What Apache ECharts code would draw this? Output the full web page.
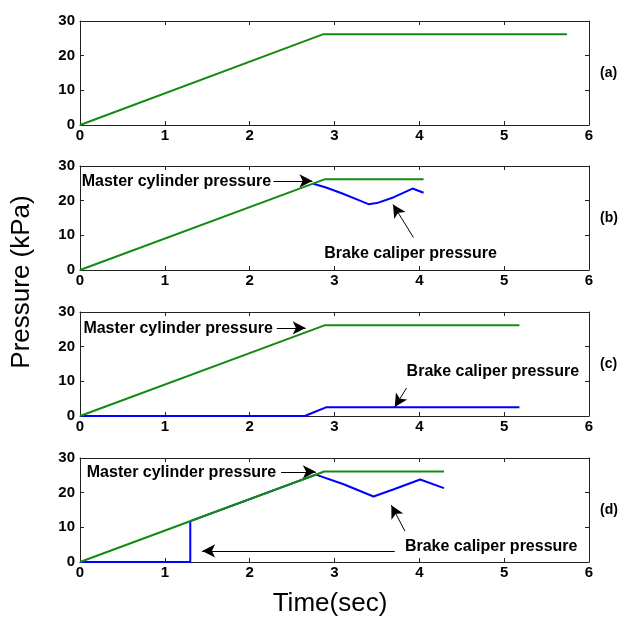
<!DOCTYPE html>
<html>
<head>
<meta charset="utf-8">
<script src="https://cdn.jsdelivr.net/npm/echarts@6/dist/echarts.min.js"></script>
<style>
html, body { margin: 0; padding: 0; background: #fff; }
#chart { width: 620px; height: 619px; }
</style>
</head>
<body>
<div id="chart"></div>
<script>
// time ticks and pressure ticks
const timeTicks = [0, 1, 2, 3, 4, 5, 6];
const pressureTicks = [0, 10, 20, 30];
const panelLabels = ['(a)', '(b)', '(c)', '(d)'];

// master cylinder pressure [time, kPa]
const masterA = [[0, 0], [2.87, 26.2], [5.74, 26.2]];
const masterB = [[0, 0], [2.89, 26.2], [4.05, 26.2]];
const masterC = [[0, 0], [2.89, 26.2], [5.18, 26.2]];
const masterD = [[0, 0], [2.88, 26.1], [4.29, 26.1]];

// brake caliper pressure [time, kPa]
const brakeB = [[2.75, 24.9], [2.9, 23.8], [3.1, 22.0], [3.3, 20.0], [3.4, 19.0], [3.5, 19.3], [3.7, 21.0], [3.92, 23.5], [4.05, 22.3]];
const brakeC = [[0, 0], [2.65, 0], [2.75, 1.0], [2.9, 2.5], [5.18, 2.5]];
const brakeD = [[0, 0], [1.3, 0], [1.3, 11.78], [2.78, 25.19], [3.1, 22.5], [3.46, 18.9], [3.7, 21.0], [4.01, 23.8], [4.29, 21.3]];

// annotation anchors in data units: [text, x, y]
const notesB = [['Master cylinder pressure', 0.02, 25.4], ['Brake caliper pressure', 2.88, 4.6]];
const notesC = [['Master cylinder pressure', 0.04, 25.1], ['Brake caliper pressure', 3.85, 12.7]];
const notesD = [['Master cylinder pressure', 0.08, 25.7], ['Brake caliper pressure', 3.83, 4.3]];
// arrows: [x1, y1, x2(head), y2(head)]
const arrowsB = [[2.28, 25.7, 2.74, 25.7], [3.93, 9.4, 3.69, 18.9]];
const arrowsC = [[2.32, 25.4, 2.66, 25.4], [3.85, 8.1, 3.71, 2.6]];
const arrowsD = [[2.37, 26.0, 2.78, 26.0], [3.71, 3.2, 1.44, 3.2], [3.83, 8.9, 3.67, 16.4]];

const chart = echarts.init(document.getElementById('chart'));

const gridTops = [21, 166, 312, 458];
const gridHeight = 104;
const fontFamily = 'Liberation Sans, Arial, sans-serif';
const tickFont = { fontFamily: fontFamily, fontWeight: 'bold', fontSize: 15, color: '#000' };
const axisColor = '#222';
const green = '#138a13';
const blue = '#0000ff';

const grids = [], xAxes = [], yAxes = [], series = [];
gridTops.forEach((top, i) => {
    grids.push({ left: 80, right: 31, top: top, height: gridHeight });
    ['bottom', 'top'].forEach(pos => {
        xAxes.push({
            gridIndex: i, type: 'value', position: pos, min: 0, max: 6, interval: 1,
            axisLine: { show: true, onZero: false, lineStyle: { color: axisColor, width: 1 } },
            axisTick: { show: true, inside: true, length: 4, lineStyle: { color: axisColor } },
            axisLabel: Object.assign({ show: pos === 'bottom', margin: 3 }, tickFont),
            splitLine: { show: false }
        });
    });
    ['left', 'right'].forEach(pos => {
        yAxes.push({
            gridIndex: i, type: 'value', position: pos, min: 0, max: 30, interval: 10,
            axisLine: { show: true, onZero: false, lineStyle: { color: axisColor, width: 1 } },
            axisTick: { show: true, inside: true, length: 4, lineStyle: { color: axisColor } },
            axisLabel: Object.assign({ show: pos === 'left', margin: 5 }, tickFont),
            splitLine: { show: false }
        });
    });
});

function notePoints(notes) {
    return notes.map(n => ({
        coord: [n[1], n[2]],
        label: {
            show: true, formatter: n[0], position: 'right', distance: 0,
            fontFamily: fontFamily, fontWeight: 'bold', fontSize: 16, color: '#000'
        }
    }));
}
function arrowLines(arrows) {
    return arrows.map(a => [{ coord: [a[0], a[1]] }, { coord: [a[2], a[3]] }]);
}

function addPanel(i, master, brake, notes, arrows) {
    if (brake) {
        series.push({
            type: 'line', xAxisIndex: 2 * i, yAxisIndex: 2 * i, data: brake,
            showSymbol: false, lineStyle: { color: blue, width: 2 }, z: 2
        });
    }
    const s = {
        type: 'line', xAxisIndex: 2 * i, yAxisIndex: 2 * i, data: master,
        showSymbol: false, lineStyle: { color: green, width: 2 }, z: 3
    };
    if (notes) {
        s.markPoint = {
            symbol: 'circle', symbolSize: 0, itemStyle: { color: 'transparent' },
            data: notePoints(notes)
        };
        s.markLine = {
            silent: true, symbol: ['none', 'arrow'], symbolSize: [10, 13],
            lineStyle: { color: '#000', width: 1, type: 'solid' },
            label: { show: false },
            data: arrowLines(arrows)
        };
    }
    series.push(s);
}
addPanel(0, masterA, null, null, null);
addPanel(1, masterB, brakeB, notesB, arrowsB);
addPanel(2, masterC, brakeC, notesC, arrowsC);
addPanel(3, masterD, brakeD, notesD, arrowsD);

const graphic = panelLabels.map((t, i) => ({
    type: 'text', x: 600, y: gridTops[i] + gridHeight / 2,
    style: { text: t, fontFamily: fontFamily, fontWeight: 'bold', fontSize: 14, fill: '#000', verticalAlign: 'middle' }
}));
graphic.push({
    type: 'text', x: 22, y: 282, rotation: Math.PI / 2,
    style: { text: 'Pressure (kPa)', fontFamily: fontFamily, fontSize: 26, fill: '#000', align: 'center', verticalAlign: 'middle' }
});
graphic.push({
    type: 'text', x: 330, y: 604,
    style: { text: 'Time(sec)', fontFamily: fontFamily, fontSize: 26, fill: '#000', align: 'center', verticalAlign: 'middle' }
});

chart.setOption({
    animation: false,
    grid: grids,
    xAxis: xAxes,
    yAxis: yAxes,
    series: series,
    graphic: graphic
});
</script>
</body>
</html>
